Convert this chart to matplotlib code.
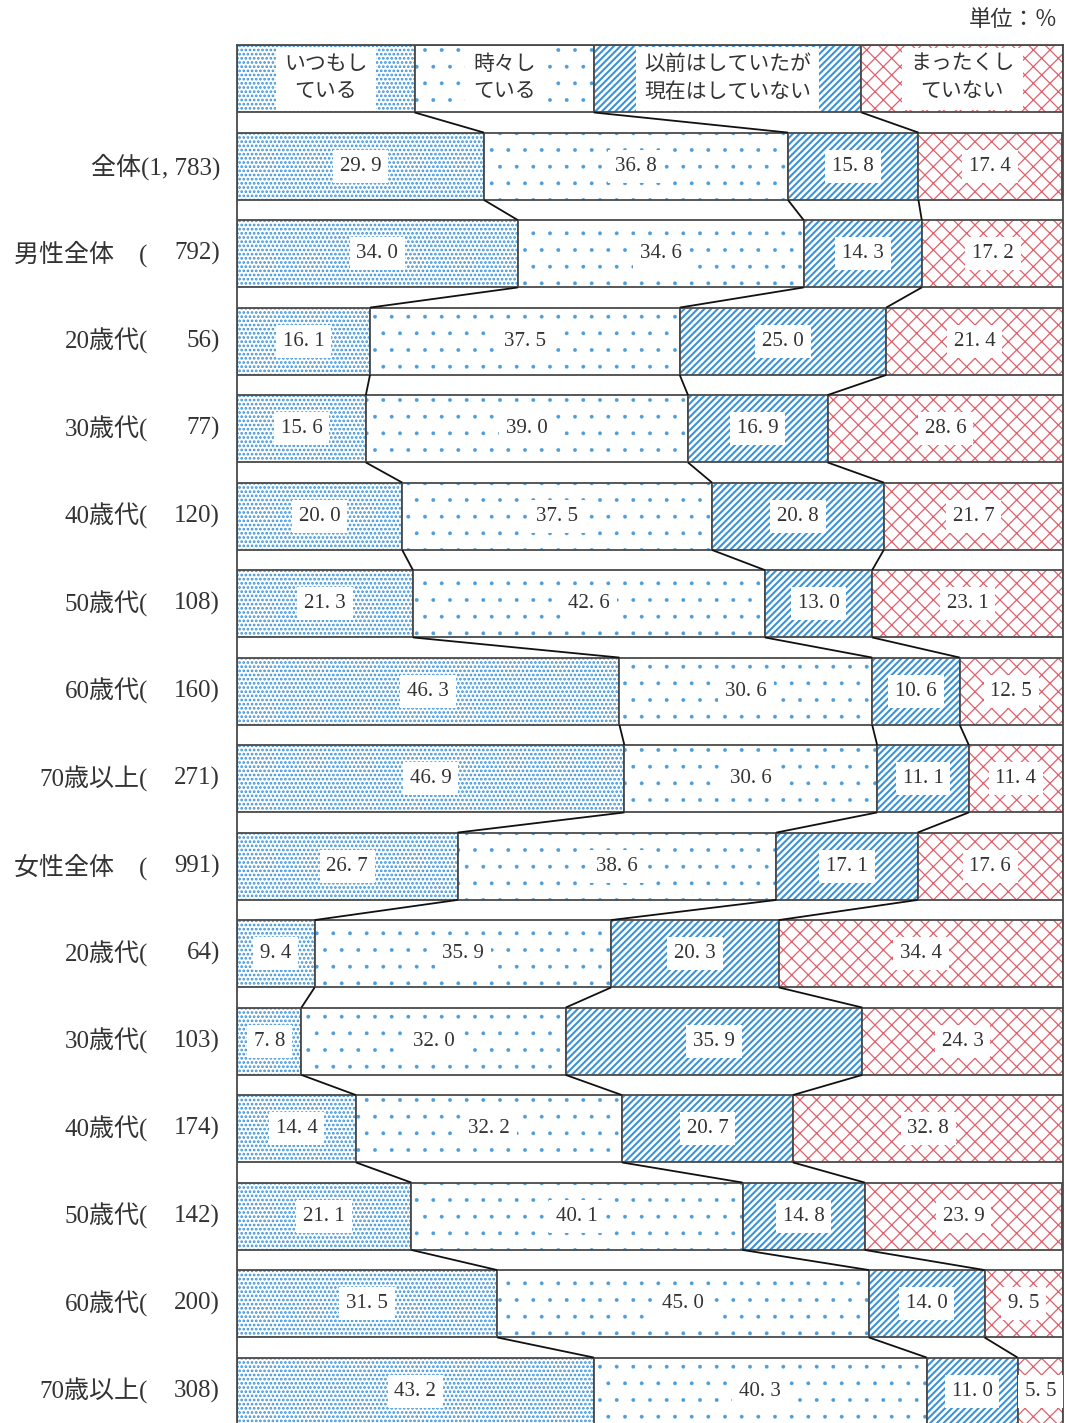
import numpy as np
import matplotlib.pyplot as plt

plt.rcParams["font.family"] = ["Liberation Serif", "Noto Sans CJK JP"]
plt.rcParams["hatch.linewidth"] = 1.0

# ---------------------------------------------------------------------------
# Data
# ---------------------------------------------------------------------------
groups = ["全体", "男性全体", "20歳代", "30歳代", "40歳代", "50歳代", "60歳代", "70歳以上",
          "女性全体", "20歳代", "30歳代", "40歳代", "50歳代", "60歳代", "70歳以上"]
counts = [1783, 792, 56, 77, 120, 108, 160, 271, 991, 64, 103, 174, 142, 200, 308]

always = [29.9, 34.0, 16.1, 15.6, 20.0, 21.3, 46.3, 46.9, 26.7, 9.4, 7.8, 14.4, 21.1, 31.5, 43.2]
sometimes = [36.8, 34.6, 37.5, 39.0, 37.5, 42.6, 30.6, 30.6, 38.6, 35.9, 32.0, 32.2, 40.1, 45.0, 40.3]
before = [15.8, 14.3, 25.0, 16.9, 20.8, 13.0, 10.6, 11.1, 17.1, 20.3, 35.9, 20.7, 14.8, 14.0, 11.0]
never = [17.4, 17.2, 21.4, 28.6, 21.7, 23.1, 12.5, 11.4, 17.6, 34.4, 24.3, 32.8, 23.9, 9.5, 5.5]

categories = ["いつもし\nている", "時々し\nている", "以前はしていたが\n現在はしていない", "まったくし\nていない"]
legend_widths = [21.5, 21.7, 32.4, 24.4]   # header boxes

# ---------------------------------------------------------------------------
# Style
# ---------------------------------------------------------------------------
BLUE = "#3a92d8"
RED = "#e0606c"
EDGE = "#4a4a4a"
TXT = "#333333"
hatches = ["....", ".", "/////", "xx"]
hatch_lw = [1.3, 0.3, 1.5, 0.9]
hcolors = [BLUE, "#4a9ddc", BLUE, RED]
H = 0.77

data = np.array([always, sometimes, before, never])
n = data.shape[1]
rows = np.arange(1, n + 1)
lefts = np.vstack([np.zeros(n), np.cumsum(data, axis=0)[:-1]])


def hatched(y, w, left, k):
    bars = ax.barh(y, w, left=left, height=H, color="white",
                   edgecolor=hcolors[k], hatch=hatches[k], linewidth=0)
    for p in bars:
        if hasattr(p, "set_hatch_linewidth"):
            p.set_hatch_linewidth(hatch_lw[k])
    ax.barh(y, w, left=left, height=H, fill=False, edgecolor=EDGE, linewidth=1.3)


def fmt(v):
    return f"{v:.1f}".replace(".", ". ")


fig = plt.figure(figsize=(10.65, 14.23), dpi=100)
ax = fig.add_axes([237 / 1065, 0, 826 / 1065, 1 - 45 / 1423])

# header legend boxes
head_left = np.concatenate([[0], np.cumsum(legend_widths)[:-1]])
for k in range(4):
    hatched(0, legend_widths[k], head_left[k], k)
    ax.text(head_left[k] + legend_widths[k] / 2, 0.0, categories[k], ha="center", va="center",
            fontsize=15, color=TXT, linespacing=1.55,
            bbox=dict(facecolor="white", edgecolor="none", pad=6))

# stacked bars
for k in range(4):
    hatched(rows, data[k], lefts[k], k)
    for r, l, v in zip(rows, lefts[k], data[k]):
        ax.text(l + v / 2, r, fmt(v), ha="center", va="center",
                fontsize=15, color=TXT,
                bbox=dict(facecolor="white", edgecolor="none", pad=5))

# connector lines between segment boundaries of adjacent rows
bounds = np.column_stack([np.cumsum(legend_widths)[:3], np.cumsum(data, axis=0)[:3]])
ypos = np.arange(n + 1)
for k in range(3):
    for i in range(n):
        ax.plot([bounds[k, i], bounds[k, i + 1]], [ypos[i] + H / 2, ypos[i + 1] - H / 2],
                color="#111111", linewidth=1.3, solid_capstyle="butt")

# row labels
ytr = ax.get_yaxis_transform()
for r, g, c in zip(rows, groups, counts):
    if c >= 1000:
        ax.text(-0.0206, r, f"{g}({c:,})".replace(",", ", "), transform=ytr,
                ha="right", va="center", fontsize=18, color=TXT)
        continue
    name = g + "　(" if g.endswith("全体") else g + "("
    ax.text(-0.108, r, name, transform=ytr, ha="right", va="center", fontsize=18, color=TXT)
    ax.text(-0.0206, r, f"{c})", transform=ytr, ha="right", va="center", fontsize=18, color=TXT)

ax.set_xlim(0, 100)
ax.set_ylim(15.363, -0.386)
ax.set_xticks([])
ax.set_yticks([])
for s in ("left", "right", "top"):
    ax.spines[s].set_color(EDGE)
    ax.spines[s].set_linewidth(1.3)
ax.spines["bottom"].set_visible(False)

fig.text(1058 / 1065, 1 - 20 / 1423, "単位：％", ha="right", va="center",
         fontsize=16, color=TXT, family=["Noto Sans CJK JP"])

fig.savefig("out.png", dpi=100)
